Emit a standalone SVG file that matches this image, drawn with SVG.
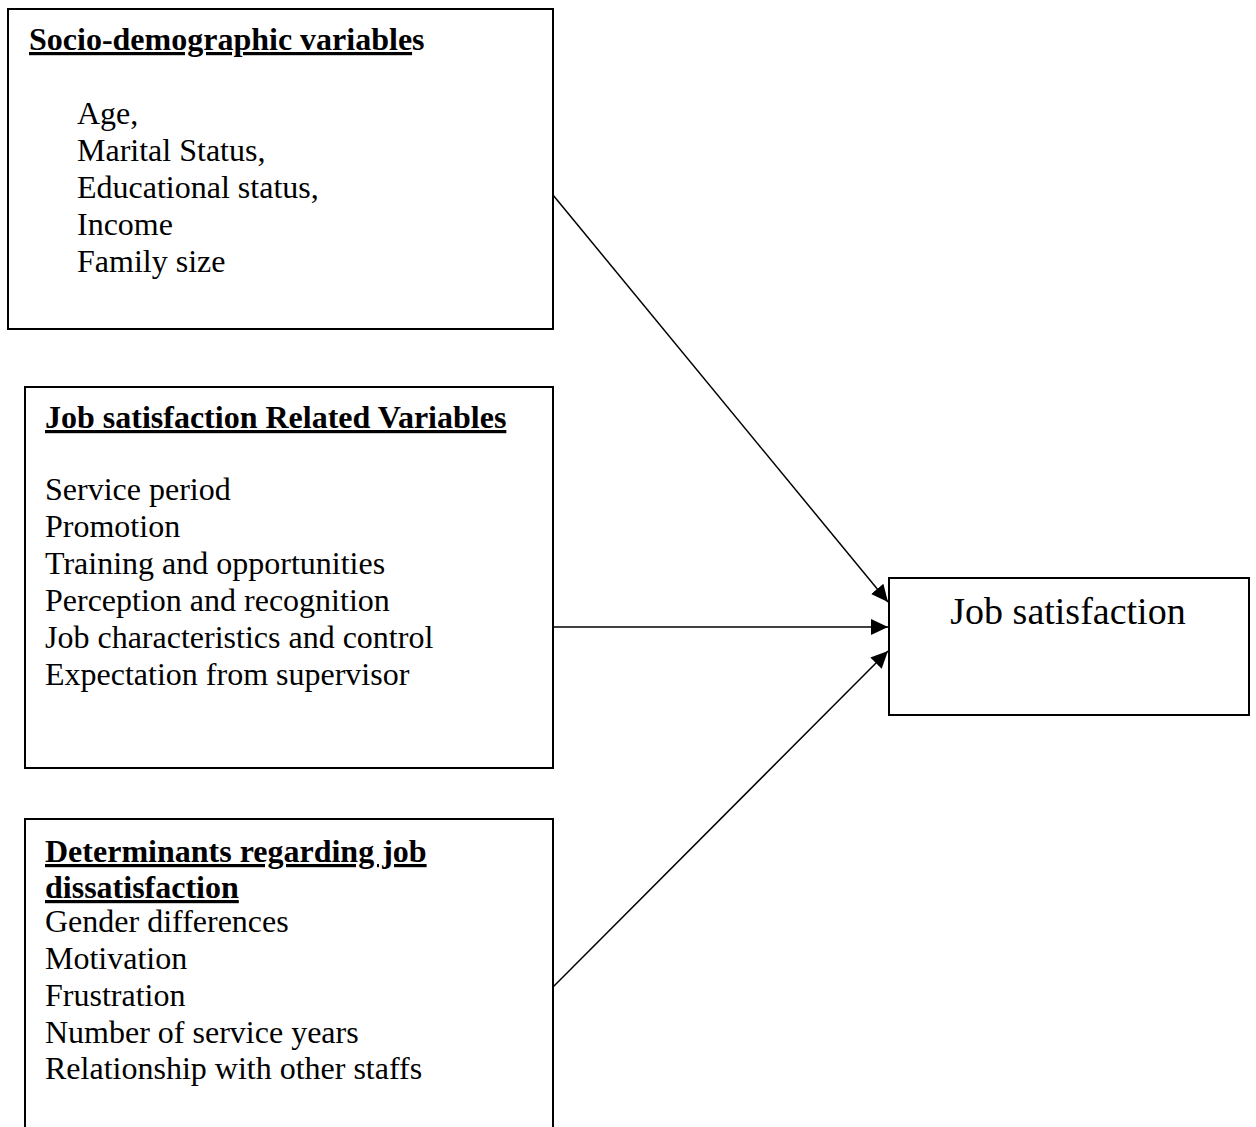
<svg xmlns="http://www.w3.org/2000/svg" width="1256" height="1127" viewBox="0 0 1256 1127">
<style>
.box{fill:#fff;stroke:#000;stroke-width:2}
text{font-family:"Liberation Serif","Times New Roman",serif;fill:#000;font-size:32px}
.h{font-weight:bold}
.u{text-decoration:underline}
.conn{stroke:#000;stroke-width:1.5;fill:none}
</style>
<defs>
<marker id="ah" viewBox="0 0 17 17" refX="17" refY="8.5" markerWidth="17" markerHeight="17" markerUnits="userSpaceOnUse" orient="auto">
<path d="M0,0.5 L17,8.5 L0,16.5 z" fill="#000"/>
</marker>
</defs>
<rect width="1256" height="1127" fill="#fff"/>
<g id="socio">
<rect class="box" x="8" y="9" width="545" height="320"/>
<text x="29" y="50" class="h"><tspan class="u">Socio-demographic variable</tspan>s</text>
<text x="77" y="124">Age,</text>
<text x="77" y="161">Marital Status,</text>
<text x="77" y="198">Educational status,</text>
<text x="77" y="235">Income</text>
<text x="77" y="272">Family size</text>
</g>
<g id="related">
<rect class="box" x="25" y="387" width="528" height="381"/>
<text x="45" y="428" class="h u">Job satisfaction Related Variables</text>
<text x="45" y="500">Service period</text>
<text x="45" y="537">Promotion</text>
<text x="45" y="574">Training and opportunities</text>
<text x="45" y="611">Perception and recognition</text>
<text x="45" y="648">Job characteristics and control</text>
<text x="45" y="685">Expectation from supervisor</text>
</g>
<g id="determinants">
<rect class="box" x="25" y="819" width="528" height="320"/>
<text x="45" y="862" class="h u">Determinants regarding job</text>
<text x="45" y="898" class="h u">dissatisfaction</text>
<text x="45" y="932">Gender differences</text>
<text x="45" y="969">Motivation</text>
<text x="45" y="1006">Frustration</text>
<text x="45" y="1043">Number of service years</text>
<text x="45" y="1079">Relationship with other staffs</text>
</g>
<g id="jobsat">
<rect class="box" x="889" y="578" width="360" height="137"/>
<text x="1068" y="624" text-anchor="middle" style="font-size:38px">Job satisfaction</text>
</g>
<g id="connectors">
<line class="conn" x1="553" y1="195" x2="888" y2="602" marker-end="url(#ah)"/>
<line class="conn" x1="553" y1="627" x2="888" y2="627" marker-end="url(#ah)"/>
<line class="conn" x1="553" y1="987" x2="888" y2="651" marker-end="url(#ah)"/>
</g>
</svg>
